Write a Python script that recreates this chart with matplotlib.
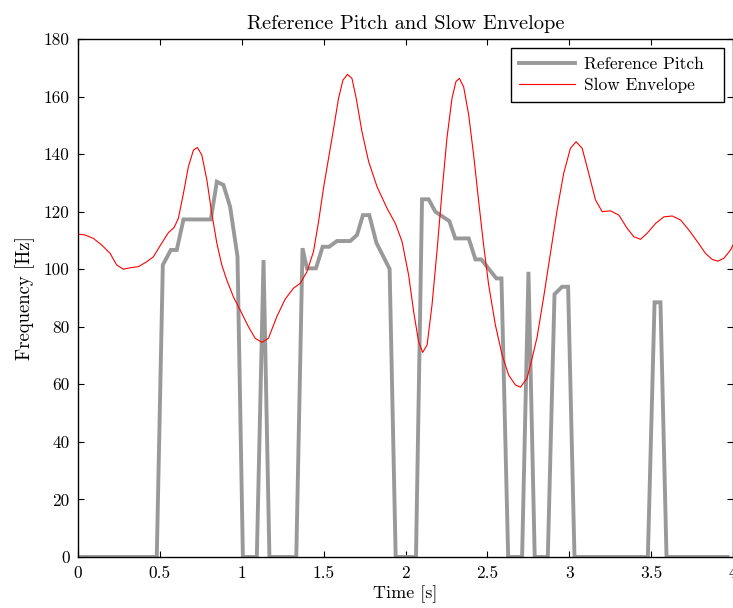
import matplotlib
matplotlib.use("Agg")
import matplotlib.pyplot as plt

plt.rcParams['font.family'] = ['cmr10', 'DejaVu Serif']
plt.rcParams['mathtext.fontset'] = 'cm'
plt.rcParams['axes.formatter.use_mathtext'] = True

# Reference pitch (time [s], frequency [Hz])
pitch_t = [0.0, 0.481, 0.518, 0.567, 0.603, 0.644, 0.811, 0.848, 0.888, 0.929, 0.974, 1.007,
           1.092, 1.133, 1.169, 1.333, 1.371, 1.398, 1.453, 1.494, 1.534, 1.581, 1.663, 1.704,
           1.740, 1.779, 1.822, 1.903, 1.940, 2.064, 2.101, 2.141, 2.182, 2.268, 2.304, 2.386,
           2.427, 2.463, 2.555, 2.586, 2.627, 2.712, 2.751, 2.789, 2.869, 2.910, 2.956, 2.993,
           3.032, 3.480, 3.521, 3.557, 3.594, 3.967]
pitch_f = [0, 0, 101.5, 106.7, 106.7, 117.3, 117.3, 130.4, 129.3, 121.7, 104.4, 0,
           0, 103.2, 0, 0, 107.3, 100.3, 100.3, 107.8, 107.8, 109.8, 109.8, 111.9,
           118.8, 118.8, 109.2, 100.1, 0, 0, 124.3, 124.3, 120.0, 116.7, 110.7, 110.7,
           103.4, 103.4, 96.8, 96.8, 0, 0, 99.1, 0, 0, 91.3, 93.9, 93.9,
           0, 0, 88.5, 88.5, 0, 0]

# Slow envelope (time [s], frequency [Hz])
env_t = [0.000, 0.043, 0.094, 0.145, 0.196, 0.236, 0.277, 0.318, 0.369, 0.420, 0.460, 0.501,
         0.552, 0.587, 0.613, 0.644, 0.674, 0.705, 0.729, 0.756, 0.787, 0.817, 0.848, 0.878,
         0.909, 0.949, 1.000, 1.041, 1.082, 1.123, 1.163, 1.214, 1.265, 1.316, 1.357, 1.398,
         1.438, 1.469, 1.499, 1.530, 1.561, 1.591, 1.618, 1.646, 1.673, 1.699, 1.734, 1.775,
         1.826, 1.887, 1.938, 1.979, 2.019, 2.050, 2.080, 2.105, 2.132, 2.162, 2.192, 2.223,
         2.253, 2.284, 2.308, 2.329, 2.355, 2.386, 2.416, 2.447, 2.477, 2.508, 2.549, 2.590,
         2.630, 2.671, 2.702, 2.742, 2.773, 2.804, 2.844, 2.885, 2.926, 2.966, 3.007, 3.042,
         3.079, 3.119, 3.160, 3.201, 3.252, 3.303, 3.354, 3.394, 3.435, 3.476, 3.527, 3.578,
         3.629, 3.680, 3.731, 3.782, 3.832, 3.873, 3.908, 3.944, 3.985, 4.000]
env_f = [112.2, 111.9, 110.7, 108.4, 105.5, 101.5, 100.0, 100.5, 100.9, 102.6, 104.3, 108.1,
         112.7, 114.5, 117.7, 126.4, 135.6, 141.4, 142.3, 139.7, 131.0, 119.4, 109.0, 101.5,
         96.2, 90.4, 84.7, 80.0, 76.0, 74.6, 76.0, 83.5, 89.6, 93.4, 95.1, 99.1,
         106.1, 116.5, 128.1, 138.5, 148.9, 159.4, 165.7, 167.7, 166.3, 159.4, 147.8, 137.4,
         128.7, 121.2, 115.9, 109.6, 98.0, 85.2, 74.8, 71.1, 73.7, 87.6, 106.1, 126.9,
         145.5, 159.4, 165.2, 166.3, 163.4, 153.6, 139.7, 123.5, 108.4, 94.5, 80.6, 70.2,
         63.2, 59.8, 59.0, 62.1, 69.0, 76.5, 90.4, 105.5, 120.6, 133.3, 142.0, 144.3,
         142.0, 133.3, 124.1, 120.0, 120.3, 118.8, 114.2, 111.3, 110.4, 112.5, 115.9, 118.2,
         118.5, 117.1, 113.6, 109.6, 105.5, 103.4, 102.8, 103.8, 106.7, 108.4]

x_ticks = [0, 0.5, 1, 1.5, 2, 2.5, 3, 3.5, 4]
x_tick_labels = ['0', '0.5', '1', '1.5', '2', '2.5', '3', '3.5', '4']
y_ticks = [0, 20, 40, 60, 80, 100, 120, 140, 160, 180]

fig = plt.figure(figsize=(7.33, 6.08), dpi=100)
ax = fig.add_axes([78/733, 1 - 557/608, 655/733, (557 - 39)/608])

ax.plot(pitch_t, pitch_f, color='#999999', linewidth=2.8, label='Reference Pitch',
        solid_joinstyle='miter')
ax.plot(env_t, env_f, color='red', linewidth=0.8, label='Slow Envelope')

ax.set_xlim(0, 4)
ax.set_ylim(0, 180)
ax.set_xticks(x_ticks)
ax.set_xticklabels(x_tick_labels)
ax.set_yticks(y_ticks)
ax.set_yticklabels([str(v) for v in y_ticks])
ax.tick_params(direction='in', top=True, right=True, length=4.3, width=0.8, labelsize=12.5, pad=6)
for s in ax.spines.values():
    s.set_linewidth(1.0)

ax.set_title('Reference Pitch and Slow Envelope', fontsize=14.7, pad=7)
ax.set_xlabel('Time [s]', fontsize=13, labelpad=3)
ax.set_ylabel('Frequency [Hz]', fontsize=13.5, labelpad=6)

leg = ax.legend(loc='upper left', bbox_to_anchor=(0.6606, 0.5, 0.3261, 0.482), mode='expand',
                borderaxespad=0, fontsize=12.5, fancybox=False, edgecolor='black',
                framealpha=1, handlelength=3.2, handletextpad=0.5, borderpad=0.5,
                labelspacing=0.32)
leg.get_frame().set_linewidth(1.0)

fig.savefig('out.png', dpi=100)
